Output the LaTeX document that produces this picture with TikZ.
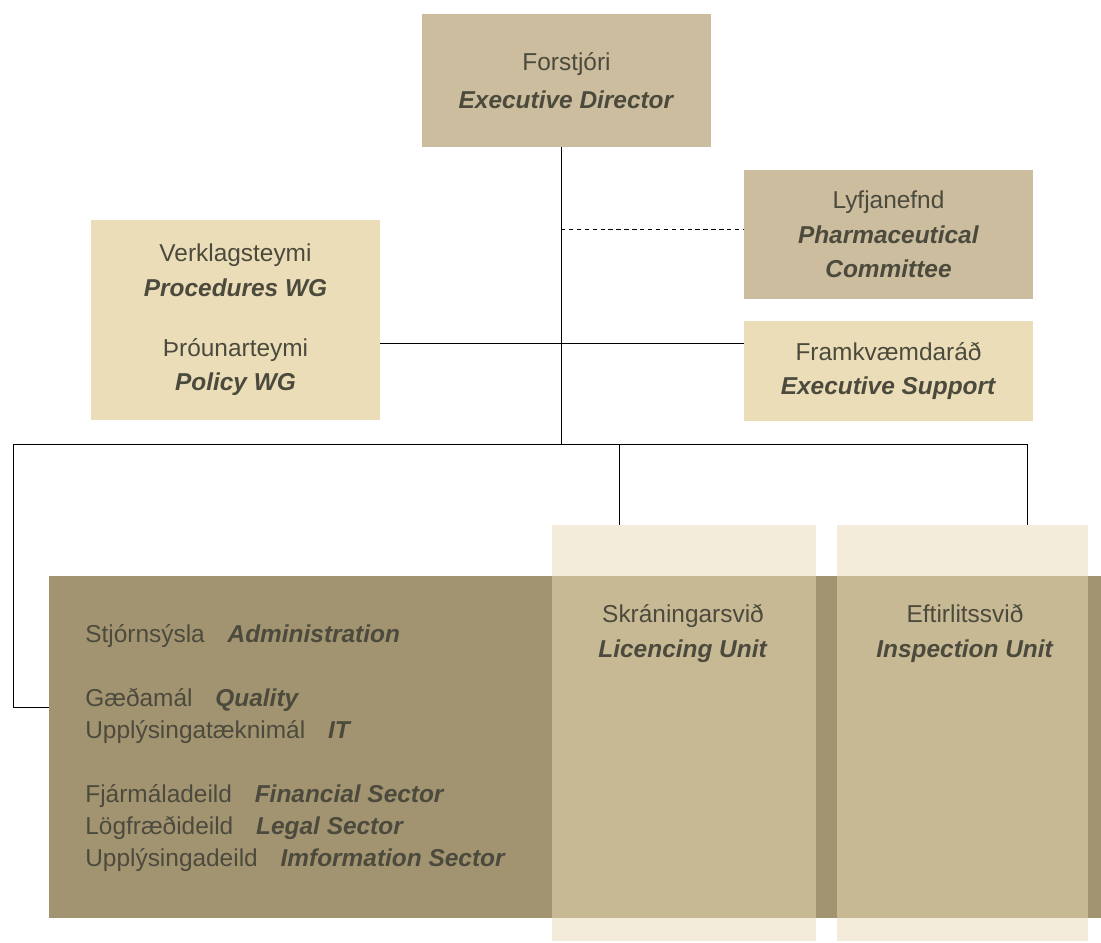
\documentclass[tikz,border=0pt]{standalone}
\usepackage{fontspec}
\setmainfont{Liberation Sans}
\usetikzlibrary{positioning}

\definecolor{boxdark}{HTML}{CBBD9E}
\definecolor{boxlight}{HTML}{EBDDB8}
\definecolor{banddark}{HTML}{A39471}
\definecolor{colcream}{HTML}{F3ECDA}
\definecolor{colmid}{HTML}{C8B995}
\definecolor{inktext}{HTML}{4B4A3D}

\newcommand{\engl}[1]{\textbf{\textit{#1}}}

\tikzset{
  orgbox/.style={rectangle, inner sep=0pt, text=inktext, align=center,
    font=\fontsize{13.9}{19.5}\selectfont},
  rowtext/.style={anchor=west, inner sep=0pt, text=inktext,
    font=\fontsize{13.9}{19.5}\selectfont},
  link/.style={line width=0.5pt},
}

\begin{document}
\begin{tikzpicture}
  \useasboundingbox (0,0) rectangle (22.02,-18.84);

  % boxes on top
  \node[
  orgbox,
  fill=boxdark,
  minimum width=5.78cm,
  minimum height=2.66cm,
  ] (ed) at (11.33,-1.61) {Forstjóri\\[2pt]\engl{Executive Director}};

  \node[
  orgbox,
  fill=boxdark,
  minimum width=5.78cm,
  minimum height=2.58cm,
  ] (pc) at (17.77,-4.69) {Lyfjanefnd\\\engl{Pharmaceutical}\\\engl{Committee}};

  \node[
  orgbox,
  fill=boxlight,
  minimum width=5.78cm,
  minimum height=2.0cm,
  below=0.42cm of pc] (es) {Framkvæmdaráð\\\engl{Executive Support}};

  \node[
  orgbox,
  fill=boxlight,
  minimum width=5.78cm,
  minimum height=4.0cm,
  ] (wg) at (4.71,-6.40) {Verklagsteymi\\\engl{Procedures WG}\\[15pt]Þróunarteymi\\\engl{Policy WG}};

  % units
  \node[
  rectangle,
  inner sep=0pt,
  fill=banddark,
  minimum width=21.04cm,
  minimum height=6.84cm,
  ] (adm) at (11.50,-14.94) {};

  \node[
  rectangle,
  inner sep=0pt,
  fill=colcream,
  minimum width=5.28cm,
  minimum height=8.32cm,
  ] (lic) at (13.68,-14.66) {};

  \node[
  rectangle,
  inner sep=0pt,
  fill=colcream,
  minimum width=5.02cm,
  minimum height=8.32cm,
  ] (insp) at (19.25,-14.66) {};

  \fill[colmid] (lic.west |- adm.north) rectangle (lic.east |- adm.south);
  \fill[colmid] (insp.west |- adm.north) rectangle (insp.east |- adm.south);

  \node[orgbox] (lictext) at (13.66,-12.67) {Skráningarsvið\\\engl{Licencing Unit}};
  \node[orgbox] (insptext) at (19.30,-12.67) {Eftirlitssvið\\\engl{Inspection Unit}};

  \node[rowtext] (stj) at (1.70,-12.72) {Stjórnsýsla\hspace{13pt}\engl{Administration}};
  \node[rowtext] (gaed) at (1.70,-14.00) {Gæðamál\hspace{13pt}\engl{Quality}};
  \node[rowtext] (upptaek) at (1.70,-14.64) {Upplýsingatæknimál\hspace{13pt}\engl{IT}};
  \node[rowtext] (fjar) at (1.70,-15.92) {Fjármáladeild\hspace{13pt}\engl{Financial Sector}};
  \node[rowtext] (log) at (1.70,-16.56) {Lögfræðideild\hspace{13pt}\engl{Legal Sector}};
  \node[rowtext] (upp) at (1.70,-17.20) {Upplýsingadeild\hspace{13pt}\engl{Imformation Sector}};

  % lines
  \coordinate (trunk) at (11.22,-8.88);
  \coordinate (dash) at (11.22,-4.58);
  \coordinate (wgline) at (11.22,-6.86);
  \coordinate (busl) at (0.26,-8.88);
  \coordinate (busr) at (20.54,-8.88);
  \coordinate (licdrop) at (12.38,-8.88);

  \draw[link] (ed.south -| trunk) -- (trunk);
  \draw[link, dash pattern=on 2.5pt off 2pt] (dash) -- (dash -| pc.west);
  \draw[link] (wgline -| wg.east) -- (wgline -| es.west);
  \draw[link] (busl) -- (busr);
  \draw[link] (busl) |- ([yshift=8mm]adm.west);
  \draw[link] (licdrop) -- (licdrop |- lic.north);
  \draw[link] (busr) -- (busr |- insp.north);
\end{tikzpicture}
\end{document}
